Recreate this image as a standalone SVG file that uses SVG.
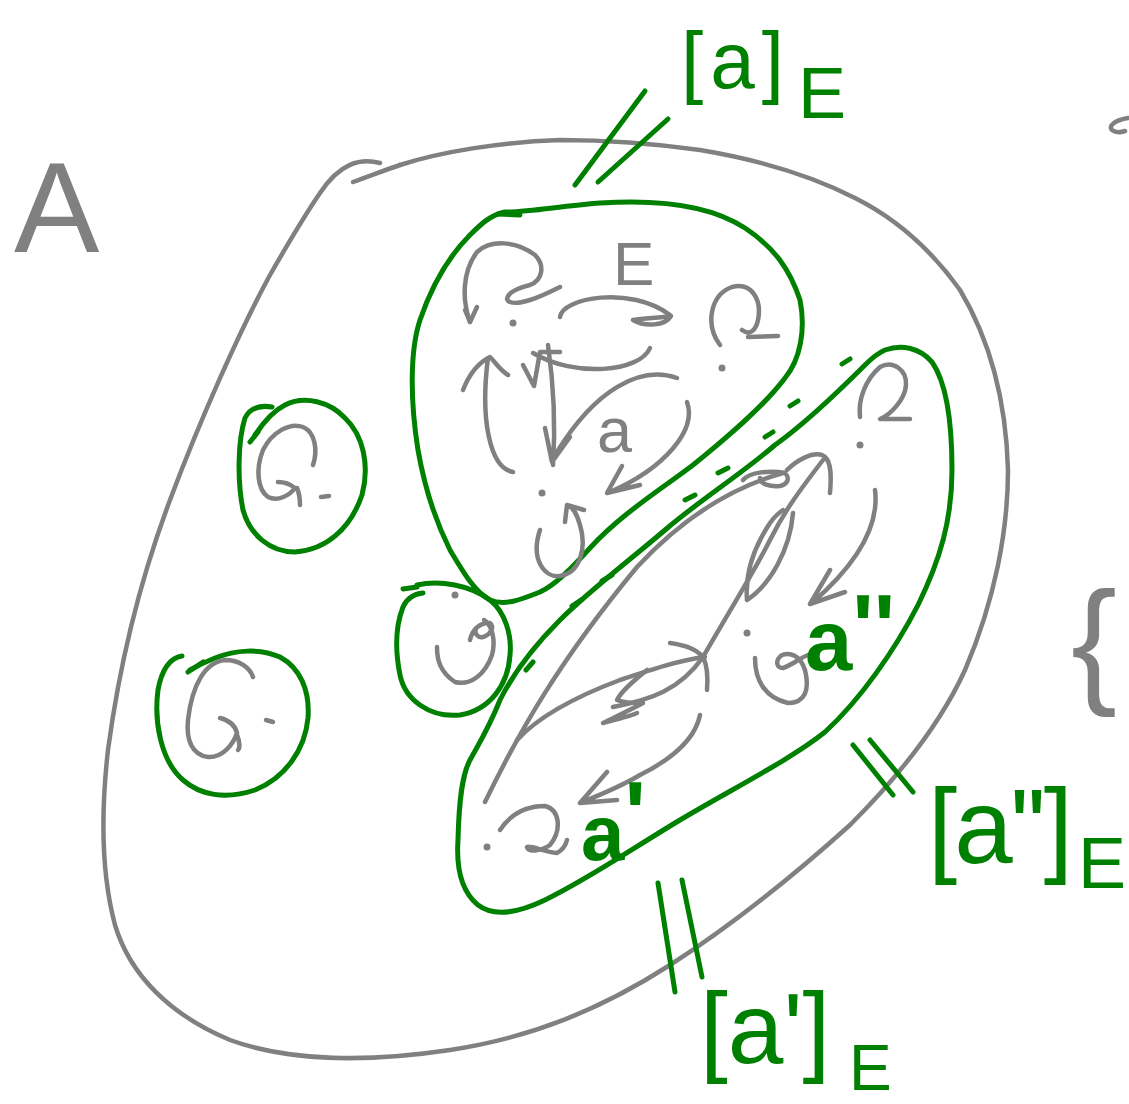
<svg xmlns="http://www.w3.org/2000/svg" width="1129" height="1104" viewBox="0 0 1129 1104">
<style>
.g{fill:none;stroke:#808080;stroke-width:4.5;stroke-linecap:round;stroke-linejoin:round}
.gr{fill:none;stroke:#008000;stroke-width:5;stroke-linecap:round;stroke-linejoin:round}
.dot{fill:#808080}
.tg{font-family:"Liberation Sans",Arial,sans-serif;fill:#808080}
.tn{font-family:"Liberation Sans",Arial,sans-serif;fill:#008000}
</style>
<rect width="1129" height="1104" fill="#ffffff"/>

<g id="set-A">
<path class="g" d="M380,163 C360,158 340,163 320,193 C305,215 290,240 270,275 C240,330 200,420 170,500 C140,580 120,660 108,750 C100,820 103,880 115,925 C130,975 170,1015 230,1040 C290,1062 370,1062 450,1050 C530,1038 600,1010 670,965 C740,920 800,870 850,825 C900,775 940,725 965,670 C995,600 1008,530 1008,470 C1006,400 990,340 960,290 C930,248 895,218 855,198 C810,175 760,160 700,150 C650,143 600,140 560,140 C500,142 440,152 400,165"/>
<path class="g" d="M400,165 C385,170 370,176 353,182" stroke-width="5.5"/>
<text class="tg" x="14" y="252" font-size="128">A</text>
<path class="g" d="M1128,118 C1115,120 1108,126 1112,130 C1116,133 1122,132 1125,131"/>
<text class="tg" x="1071" y="688" font-size="138">{</text>
</g>

<g id="class-a">
<path class="gr" d="M505,212 C530,212 560,206 600,203 C660,199 710,205 745,228 C775,248 790,270 800,300 C806,330 800,360 785,378 C765,405 730,435 693,465 C660,490 620,515 590,548 C570,570 555,585 540,592 C520,600 505,606 490,600 C475,592 465,575 450,550 C435,520 425,490 418,450 C410,400 410,350 420,320 C432,285 450,255 470,235 C480,225 490,215 505,212"/>
<path class="gr" d="M498,214 L520,215"/>
<path class="g" d="M470,322 C462,300 462,272 477,252 C490,240 515,240 535,255 C545,265 543,280 530,285 C518,288 508,292 507,299 C509,305 520,303 530,300 C540,297 550,292 560,287"/>
<path class="g" d="M465,310 L470,322 L477,307"/>
<circle class="dot" cx="513" cy="323" r="3.5"/>
<text class="tg" x="613" y="285" font-size="62">E</text>
<path class="g" d="M560,317 C562,298 630,285 670,315"/>
<path class="g" d="M633,320 C645,327 665,326 671,316 C660,318 645,318 633,320"/>
<path class="g" d="M720,345 C705,325 710,295 732,287 C752,282 762,300 758,320 C756,330 750,336 742,330 M748,337 L778,336"/>
<circle class="dot" cx="722" cy="368" r="3.5"/>
<path class="g" d="M513,472 C490,468 480,420 488,358 M463,390 C470,372 480,362 490,357 C496,363 500,370 508,375"/>
<path class="g" d="M523,365 L534,386 L540,352 L560,352"/>
<path class="g" d="M548,345 C553,380 556,420 553,465 M545,428 L552,462 L570,437"/>
<path class="g" d="M533,353 C575,378 640,372 650,348"/>
<path class="g" d="M677,378 C640,365 595,390 557,452"/>
<text class="tg" x="597" y="452" font-size="63">a</text>
<path class="g" d="M687,402 C697,430 665,468 610,492 M622,466 L607,493 L640,485"/>
<circle class="dot" cx="542" cy="493" r="3.5"/>
<path class="g" d="M540,530 C530,560 545,578 560,576 C580,573 587,548 580,525 C577,514 572,506 567,505 M565,522 L567,505 L584,510"/>
</g>

<g id="class-g1">
<path class="gr" d="M272,407 C260,405 250,408 245,418 C238,440 237,480 243,510 C250,535 270,552 295,552 C325,550 350,530 362,495 C370,465 363,435 345,418 C330,402 305,395 285,405 C275,410 265,420 255,435"/>
<path class="gr" d="M250,442 L258,432" stroke-width="6.5"/>
<path class="g" d="M313,465 C318,450 315,432 303,427 C290,422 272,432 263,450 C255,470 258,490 268,497 C278,502 290,495 295,488 C290,484 283,482 278,482 M297,488 C300,495 300,500 300,505"/>
<path class="g" d="M321,497 L329,496" stroke-width="5.5"/>
</g>

<g id="class-g2">
<path class="gr" d="M182,656 C170,658 162,668 158,690 C154,720 160,760 183,780 C200,795 225,800 255,790 C285,778 305,750 308,718 C310,690 300,668 280,657 C260,648 235,650 215,658 C205,662 197,666 190,670"/>
<path class="gr" d="M188,672 L203,662" stroke-width="6.5"/>
<path class="g" d="M253,677 C250,668 240,660 225,660 C205,662 192,685 188,720 C186,740 192,755 208,757 C222,758 233,745 237,733 C235,725 228,720 220,718 M237,735 C240,742 240,748 238,750"/>
<path class="g" d="M266,720 L273,722" stroke-width="5.5"/>
</g>

<g id="class-g3">
<path class="gr" d="M417,585 C440,580 470,585 490,600 C505,612 512,635 510,655 C508,685 490,710 460,715 C430,718 405,700 400,675 C395,650 396,625 403,607 C407,598 413,594 423,593"/>
<path class="gr" d="M403,589 L417,587"/>
<path class="g" d="M437,647 C437,660 440,672 455,682 C470,686 485,675 492,655 C496,640 492,625 484,620 M470,640 C472,630 480,622 490,623 C495,627 490,635 483,637 C478,638 474,634 476,628"/>
<circle class="dot" cx="455" cy="595" r="3.5"/>
</g>

<g id="class-a-prime">
<path class="gr" d="M885,350 C902,344 920,348 932,362 C948,385 952,430 952,470 C952,520 940,560 918,605 C895,650 860,700 825,732 C790,760 730,790 680,820 C630,850 590,878 545,900 C520,912 495,918 478,905 C462,892 456,870 458,840 C459,800 462,775 470,760 C478,745 488,730 500,700 C515,670 535,645 560,620 C590,590 630,560 665,530 C700,500 740,475 775,445 C810,420 845,385 865,365 C872,358 878,353 885,350"/>
<path class="gr" d="M842,364 L850,359 M790,406 L798,401 M765,437 L773,432 M718,473 L728,468 M685,500 L695,495 M602,581 L612,575 M572,606 L581,600 M526,670 L533,662" stroke-width="6.5"/>
<path class="g" d="M860,417 C858,400 865,380 880,367 C893,360 907,370 906,385 C905,400 890,415 880,419 L910,419"/>
<circle class="dot" cx="860" cy="445" r="3.5"/>
<path class="g" d="M875,490 C880,530 850,570 812,603 M830,570 L810,604 L845,592"/>
<path class="g" d="M485,802 C520,730 560,660 637,567 C690,510 740,485 783,473"/>
<path class="g" d="M743,480 C750,472 770,470 785,473 C790,478 788,484 780,486 C770,487 760,484 760,478 M787,470 C797,460 812,452 822,455 C830,458 832,470 830,493"/>
<path class="g" d="M517,740 C540,715 580,695 620,680 C650,670 680,660 705,657 M670,643 C685,645 697,650 703,657 C707,665 708,678 707,690"/>
<path class="g" d="M823,460 C800,490 785,510 770,540 C755,570 730,610 703,657 C680,690 650,700 613,707"/>
<path class="g" d="M647,670 C635,680 622,690 617,700 C625,703 635,703 643,703 C630,710 615,717 603,723 C615,720 630,716 637,713"/>
<path class="g" d="M793,513 C790,550 770,585 747,600 C745,575 752,550 770,523 C775,516 780,512 783,510"/>
<circle class="dot" cx="747" cy="633" r="3.5"/>
<path class="g" d="M755,658 C755,680 765,698 788,703 C805,703 810,690 805,670 C800,655 790,652 782,655 C775,660 776,668 783,668 C792,665 800,658 808,655"/>
<path class="g" d="M700,715 C695,740 670,760 640,775 C620,787 600,795 580,803 M607,772 L580,803 L617,800"/>
<path class="g" d="M500,830 C510,815 525,806 545,806 C560,810 562,830 550,845 C540,852 528,852 527,847 C530,845 545,852 557,853 C563,850 566,844 567,840"/>
<circle class="dot" cx="487" cy="847" r="3.5"/>
<text class="tn" x="805" y="670" font-size="85" font-weight="bold">a<tspan font-size="90" dy="-12">''</tspan></text>
<text class="tn" x="581" y="860" font-size="78" font-weight="bold">a<tspan font-size="90" dy="-15">'</tspan></text>
</g>

<g id="connectors">
<path class="gr" d="M575,185 L645,91 M598,182 L668,119"/>
<path class="gr" d="M853,745 L893,795 M870,740 L913,792"/>
<path class="gr" d="M658,883 L675,992 M682,880 L702,977"/>
</g>

<g id="label-a">
<text class="tn" x="681" y="88" font-size="80" letter-spacing="7">[a]</text>
<text class="tn" x="798" y="118" font-size="72">E</text>
</g>
<g id="label-a2">
<text class="tn" x="928" y="863" font-size="105" letter-spacing="-3">[a'']</text>
<text class="tn" x="1078" y="888" font-size="72">E</text>
</g>
<g id="label-a1">
<text class="tn" x="700" y="1063" font-size="100">[a']</text>
<text class="tn" x="849" y="1090" font-size="64">E</text>
</g>
</svg>
